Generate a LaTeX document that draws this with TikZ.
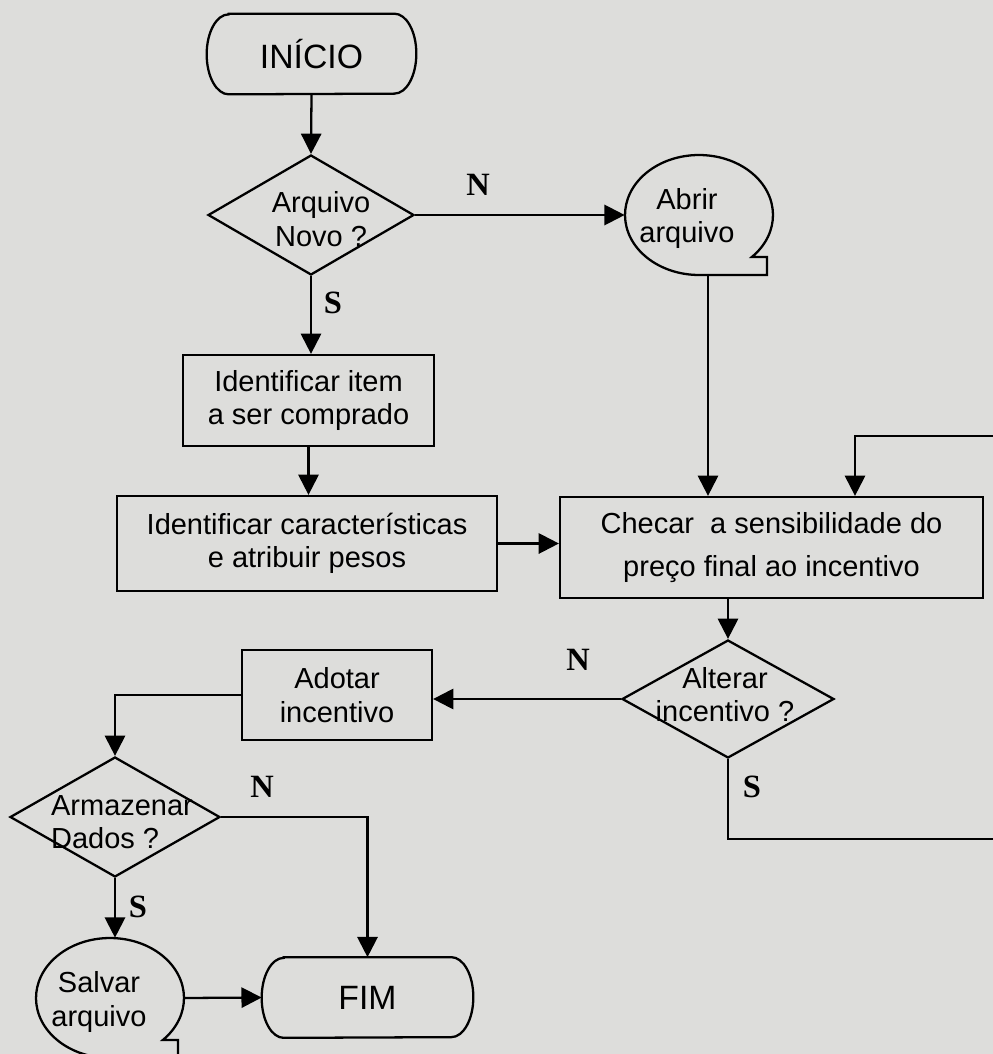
\documentclass[tikz,border=0pt]{standalone}
\usepackage{fontspec}
\setmainfont{Liberation Sans}
\newfontfamily\serifb{Liberation Serif}
\usetikzlibrary{arrows.meta,shapes.geometric}
\definecolor{paper}{RGB}{221,221,219}

\tikzset{
  flow/.style={line width=1.3pt},
  arr/.style={flow,-{Triangle[length=11.5pt,width=11.5pt]}},
  box/.style={draw,line width=1.3pt,rectangle,inner sep=0pt,align=center,
              font=\fontsize{16.5}{19}\selectfont},
  dia/.style={draw,line width=1.3pt,diamond,inner sep=0pt},
  txt/.style={align=center,inner sep=0pt,font=\fontsize{16.5}{19}\selectfont},
  yn/.style={inner sep=0pt,font=\fontsize{18.5}{20}\selectfont\serifb\bfseries},
  term/.style={inner sep=0pt,font=\fontsize{19.2}{23}\selectfont},
  tape/.style={ellipse,inner sep=0pt,minimum width=2.96cm,minimum height=2.4cm},
}

% terminator outline with elliptic ends
\newcommand\termoutline[1]{%
  \draw[flow] ([xshift=0.44cm]#1.north west) -- ([xshift=-0.44cm]#1.north east)
    arc[start angle=90,end angle=-90,x radius=0.44cm,y radius=0.8cm]
    -- ([xshift=0.44cm]#1.south west)
    arc[start angle=270,end angle=90,x radius=0.44cm,y radius=0.8cm] -- cycle;}

% sequential storage (tape) outline
\newcommand\tapeoutline[1]{%
  \draw[flow] (#1.center) ++(-44.4:1.48cm and 1.2cm)
    arc[start angle=-44.4,end angle=270,x radius=1.48cm,y radius=1.2cm]
    -- ++(1.36cm,0) -- ++(0,0.36cm) -- cycle;}

\begin{document}
\begin{tikzpicture}[x=0.02cm,y=-0.02cm]
\fill[paper] (0,0) rectangle (993,1054);
\useasboundingbox (0,0) rectangle (993,1054);
\clip (0,0) rectangle (993,1054);

% shapes
\node[term,minimum width=4.18cm,minimum height=1.6cm] (ini) at (311.5,54) {INÍCIO};
\node[dia,minimum width=4.12cm,minimum height=2.4cm] (d1) at (311,215) {};
\node[txt] (d1t) at (321,219) {Arquivo\\Novo ?};
\node[tape] (abr) at (699,215) {};
\node[txt] (abrt) at (687,218.5) {Abrir\\arquivo};
\node[box,minimum width=5.02cm,minimum height=1.82cm] (itm) at (308.5,400.5)
  {Identificar item\\a ser comprado};
\node[box,minimum width=7.6cm,minimum height=1.9cm,font=\fontsize{16.5}{18.5}\selectfont]
  (car) at (307,543.5) {Identificar características\\e atribuir pesos};
\node[box,minimum width=8.46cm,minimum height=2.02cm,font=\fontsize{16.5}{24}\selectfont]
  (chk) at (771.5,547.5) {Checar\ \ a sensibilidade do\\preço final ao incentivo};
\node[dia,minimum width=4.24cm,minimum height=2.36cm] (d2) at (728,699) {};
\node[txt] (d2t) at (725,694.5) {Alterar\\incentivo ?};
\node[box,minimum width=3.8cm,minimum height=1.8cm] (ado) at (337,695) {Adotar\\incentivo};
\node[dia,minimum width=4.2cm,minimum height=2.4cm] (d3) at (115,817) {};
\node[txt,align=left] (d3t) at (122,822) {Armazenar\\Dados ?};
\node[tape] (sal) at (110,998) {};
\node[txt] (salt) at (99,1002) {Salvar\\arquivo};
\node[term,minimum width=4.22cm,minimum height=1.6cm] (fim) at (367.5,997.5) {FIM};

\termoutline{ini}
\termoutline{fim}
\tapeoutline{abr}
\tapeoutline{sal}

% branch labels
\node[yn] (ln1) at (478,185) {N};
\node[yn] (ls1) at (333,303) {S};
\node[yn] (ln2) at (578,660) {N};
\node[yn] (ls2) at (752,787) {S};
\node[yn] (ln3) at (262,787) {N};
\node[yn] (ls3) at (138,907) {S};

% connectors
\coordinate (abrout) at (708,275);
\coordinate (loopout) at (1000,839);
\coordinate (loopin) at (1000,436);
\coordinate (loopx) at (855,497);

\draw[arr] (ini.south) -- (d1.north);
\draw[arr] (d1.east) -- (abr.west);
\draw[arr] (d1.south) -- (d1.south |- itm.north);
\draw[arr] (itm.south) -- (itm.south |- car.north);
\draw[arr] (abrout) -- (abrout |- chk.north);
\draw[arr] (car.east) -- (car.east -| chk.west);
\draw[arr] (d2.north |- chk.south) -- (d2.north);
\draw[arr] (d2.west) -- (d2.west -| ado.east);
\draw[arr] (ado.west) -| (d3.north);
\draw[arr] (d3.east) -| (fim.north);
\draw[arr] (d3.south) -- (d3.south |- sal.north);
\draw[arr] (sal.east) -- (fim.west);
\draw[flow] (d2.south) |- (loopout);
\draw[arr] (loopin) -| (loopx |- chk.north);
\end{tikzpicture}
\end{document}
